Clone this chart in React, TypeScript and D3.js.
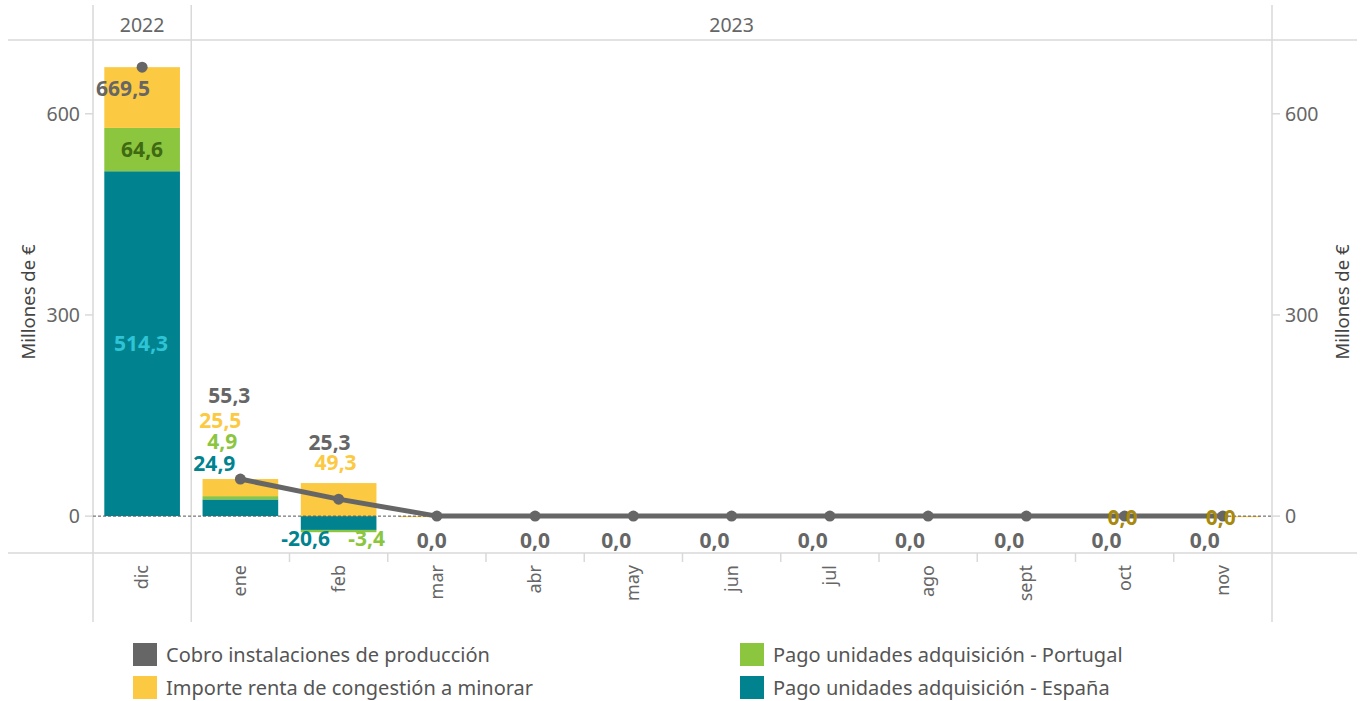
import React from 'react';
import * as d3 from 'd3';

// ---------- data ----------
const months = ['dic', 'ene', 'feb', 'mar', 'abr', 'may', 'jun', 'jul', 'ago', 'sept', 'oct', 'nov'];
const years = ['2022', '2023'];
const monthYear = ['2022', '2023', '2023', '2023', '2023', '2023', '2023', '2023', '2023', '2023', '2023', '2023'];
const espana = [514.3, 24.9, -20.6, 0, 0, 0, 0, 0, 0, 0, 0, 0];
const portugal = [64.6, 4.9, -3.4, 0, 0, 0, 0, 0, 0, 0, 0, 0];
const importe = [90.6, 25.5, 49.3, -1.5, 0, 0, 0, 0, 0, 0, 0, -1.5];
const cobro = [669.5, 55.3, 25.3, 0, 0, 0, 0, 0, 0, 0, 0, 0];
const yTicks = [0, 300, 600];
const legendItems = [
  'Cobro instalaciones de producción',
  'Importe renta de congestión a minorar',
  'Pago unidades adquisición - Portugal',
  'Pago unidades adquisición - España',
];

// ---------- style ----------
const C = {
  cobro: '#666666',
  importe: '#FCC943',
  portugal: '#8CC63F',
  espana: '#00838F',
  espanaLbl: '#2EC4D6',
  portugalLbl: '#3F6A12',
  gold: '#A8890B',
  grid: '#d9d9d9',
  text: '#666666',
};
const FONT = '"Noto Sans", "Open Sans", sans-serif';

const W = 1365;
const H = 701;
const paneL = 93;
const paneR = 1272;
const plotTop = 40;
const plotBottom = 553;

const fmt = (v: number) => d3.format('.1f')(v).replace('.', ',').replace('\u2212', '-');

export default function App() {
  const x = d3.scaleBand<string>().domain(months).range([paneL, paneR]).paddingInner(0.23).paddingOuter(0.115);
  const y = d3.scaleLinear().domain([-55, 710]).range([plotBottom, plotTop]);
  const step = x.step();
  const colStart = (i: number) => paneL + step * i;
  const cx = (m: string) => (x(m) as number) + x.bandwidth() / 2;

  const rows = months.map((m, i) => ({ m, espana: espana[i], portugal: portugal[i], importe: importe[i] }));
  const keys = ['espana', 'portugal', 'importe'] as const;
  const stack = d3.stack<any>().keys(keys as any).offset(d3.stackOffsetDiverging);
  const series = stack(rows);

  const line = d3
    .line<number>()
    .x((_, i) => cx(months[i + 1]))
    .y((d) => y(d));
  const linePath = line(cobro.slice(1)) as string;

  // year spans
  const yearSpans = years.map((yr) => {
    const idx = monthYear.map((v, i) => (v === yr ? i : -1)).filter((i) => i >= 0);
    return { yr, x0: colStart(idx[0]), x1: colStart(idx[idx.length - 1] + 1) };
  });

  // value labels (layout offsets relative to data positions)
  type Lbl = { t: string; c: string; x: number; y: number };
  const labels: Lbl[] = [];
  // dic
  labels.push({ t: fmt(cobro[0]), c: C.cobro, x: cx('dic') - 19, y: y(cobro[0]) + 21 });
  labels.push({ t: fmt(portugal[0]), c: C.portugalLbl, x: cx('dic'), y: (y(espana[0]) + y(espana[0] + portugal[0])) / 2 });
  labels.push({ t: fmt(espana[0]), c: C.espanaLbl, x: cx('dic') - 1, y: (y(0) + y(espana[0])) / 2 });
  // ene
  const eneTop = y(espana[1] + portugal[1] + importe[1]);
  labels.push({ t: fmt(espana[1]), c: C.espana, x: cx('ene') - 26, y: eneTop - 16 });
  labels.push({ t: fmt(portugal[1]), c: C.portugal, x: cx('ene') - 18, y: eneTop - 38 });
  labels.push({ t: fmt(importe[1]), c: C.importe, x: cx('ene') - 20, y: eneTop - 59 });
  labels.push({ t: fmt(cobro[1]), c: C.cobro, x: cx('ene') - 11, y: eneTop - 84 });
  // feb
  const febTop = y(importe[2]);
  labels.push({ t: fmt(importe[2]), c: C.importe, x: cx('feb') - 3, y: febTop - 21 });
  labels.push({ t: fmt(cobro[2]), c: C.cobro, x: cx('feb') - 9, y: febTop - 41 });
  labels.push({ t: fmt(espana[2]), c: C.espana, x: cx('feb') - 33, y: y(0) + 22 });
  labels.push({ t: fmt(portugal[2]), c: C.portugal, x: cx('feb') + 28, y: y(0) + 22 });
  // zero months
  const zeroDx = [0, 0, 0, -5, 0, -17, -17, -17, -18, -17, -18, -18];
  for (let i = 3; i < months.length; i++) {
    labels.push({ t: fmt(cobro[i]), c: C.cobro, x: cx(months[i]) + zeroDx[i], y: y(cobro[i]) + 24 });
  }
  const goldLabels: Lbl[] = [10, 11].map((i) => ({ t: fmt(0), c: C.gold, x: cx(months[i]) - 2, y: y(0) + 1 }));

  return (
    <svg width={W} height={H} style={{ position: 'absolute', left: 0, top: 0, background: '#fff' }} fontFamily={FONT}>
      {/* frame lines */}
      <line x1={8} x2={1357} y1={plotTop} y2={plotTop} stroke={C.grid} strokeWidth={1.5} />
      <line x1={8} x2={1357} y1={plotBottom} y2={plotBottom} stroke={C.grid} strokeWidth={1.5} />
      {[paneL, colStart(1), paneR].map((xx, i) => (
        <line key={i} x1={xx} x2={xx} y1={5} y2={622} stroke={C.grid} strokeWidth={1.5} />
      ))}
      {/* year headers */}
      {yearSpans.map((s) => (
        <text key={s.yr} x={(s.x0 + s.x1) / 2} y={32} textAnchor="middle" fontSize={19.5} fill={C.text}>
          {s.yr}
        </text>
      ))}
      {/* x tick marks */}
      {months.map((m, i) =>
        i > 1 ? <line key={m} x1={colStart(i)} x2={colStart(i)} y1={plotBottom} y2={562} stroke={C.grid} strokeWidth={1.5} /> : null
      )}
      {/* month labels */}
      {months.map((m) => (
        <text
          key={m}
          transform={`translate(${cx(m) + 6},${565}) rotate(-90)`}
          textAnchor="end"
          fontSize={18}
          fill={C.text}
        >
          {m}
        </text>
      ))}
      {/* y axes */}
      {yTicks.map((t) => (
        <g key={t}>
          <line x1={paneL - 8} x2={paneL} y1={y(t)} y2={y(t)} stroke={C.grid} strokeWidth={1.5} />
          <text x={paneL - 13} y={y(t) + 7} textAnchor="end" fontSize={19.5} fill={C.text}>
            {t}
          </text>
          <line x1={paneR} x2={paneR + 8} y1={y(t)} y2={y(t)} stroke={C.grid} strokeWidth={1.5} />
          <text x={paneR + 13} y={y(t) + 7} textAnchor="start" fontSize={19.5} fill={C.text}>
            {t}
          </text>
        </g>
      ))}
      <text transform={`translate(35,${302}) rotate(-90)`} textAnchor="middle" fontSize={18.5} fill="#444">
        Millones de €
      </text>
      <text transform={`translate(1349,${302}) rotate(-90)`} textAnchor="middle" fontSize={18.5} fill="#444">
        Millones de €
      </text>
      {/* bars */}
      {series.map((s) => (
        <g key={s.key} fill={(C as any)[s.key]}>
          {s.map((d, i) => {
            const y0 = y(d[0]);
            const y1 = y(d[1]);
            const h = Math.abs(y0 - y1);
            if (h < 0.01) return null;
            return <rect key={i} x={x(months[i])} width={x.bandwidth()} y={Math.min(y0, y1)} height={h} />;
          })}
        </g>
      ))}
      {/* zero line */}
      <line x1={paneL} x2={paneR} y1={y(0)} y2={y(0)} stroke="#555" strokeWidth={1} strokeDasharray="3,2" />
      {/* cobro line */}
      <path d={linePath} fill="none" stroke={C.cobro} strokeWidth={5} />
      {months.map((m, i) => (
        <circle key={m} cx={cx(m)} cy={y(cobro[i])} r={5.5} fill={C.cobro} />
      ))}
      {/* labels */}
      {[...labels, ...goldLabels].map((l, i) => (
        <text key={i} x={l.x} y={l.y + 7.5} textAnchor="middle" fontSize={21} fontWeight={700} fill={l.c}>
          {l.t}
        </text>
      ))}
      {/* legend */}
      {legendItems.map((t, i) => {
        const lx = i < 2 ? 133 : 740;
        const ly = i % 2 === 0 ? 643 : 676;
        const color = [C.cobro, C.importe, C.portugal, C.espana][i];
        return (
          <g key={t}>
            <rect x={lx} y={ly} width={24} height={23} fill={color} />
            <text x={lx + 33} y={ly + 19} fontSize={20} fill="#555">
              {t}
            </text>
          </g>
        );
      })}
    </svg>
  );
}
